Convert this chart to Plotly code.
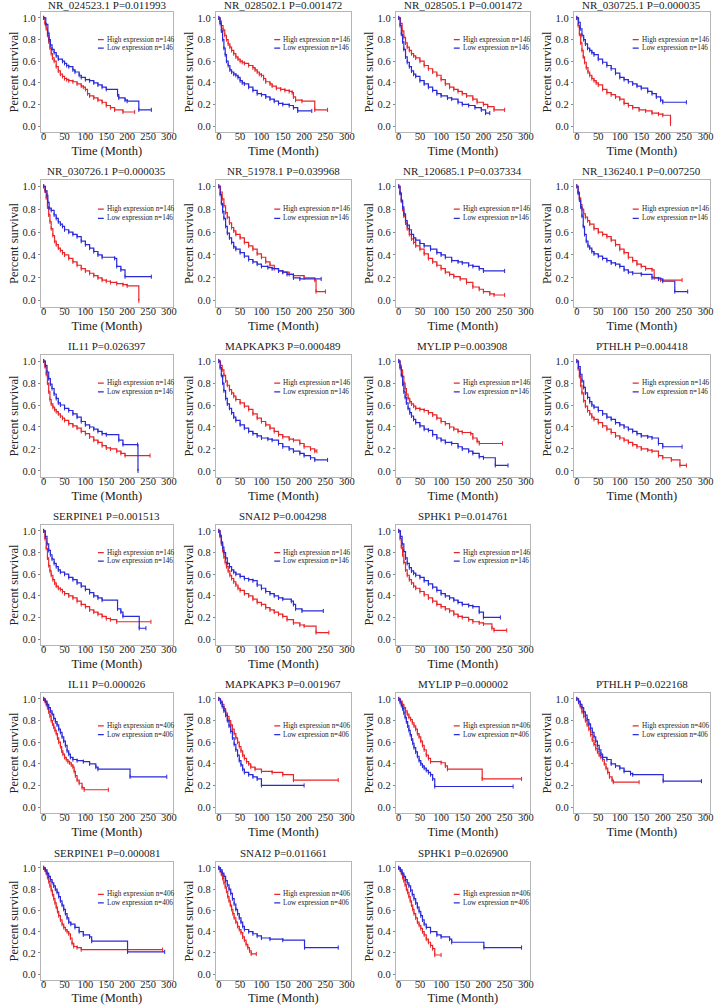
import plotly.graph_objects as go

# ---------------- data ----------------
titles = [
    "NR_024523.1 P=0.011993", "NR_028502.1 P=0.001472", "NR_028505.1 P=0.001472", "NR_030725.1 P=0.000035",
    "NR_030726.1 P=0.000035", "NR_51978.1 P=0.039968", "NR_120685.1 P=0.037334", "NR_136240.1 P=0.007250",
    "IL11 P=0.026397", "MAPKAPK3 P=0.000489", "MYLIP P=0.003908", "PTHLH P=0.004418",
    "SERPINE1 P=0.001513", "SNAI2 P=0.004298", "SPHK1 P=0.014761",
    "IL11 P=0.000026", "MAPKAPK3 P=0.001967", "MYLIP P=0.000002", "PTHLH P=0.022168",
    "SERPINE1 P=0.000081", "SNAI2 P=0.011661", "SPHK1 P=0.026900",
]
group_n = [146] * 15 + [406] * 7

x_ticks = [0, 50, 100, 150, 200, 250, 300]
y_ticks = [0.0, 0.2, 0.4, 0.6, 0.8, 1.0]

# (time, survival) step points: High expression / Low expression
p01_high = [(0,1),(3,0.95),(6,0.90),(9,0.84),(12,0.78),(15,0.72),(18,0.67),(21,0.63),(25,0.60),(30,0.55),(35,0.51),(40,0.48),(45,0.46),(50,0.44),(55,0.43),(60,0.42),(70,0.41),(80,0.39),(90,0.37),(95,0.36),(100,0.34),(105,0.30),(110,0.28),(120,0.26),(130,0.24),(140,0.22),(150,0.19),(160,0.17),(170,0.15),(190,0.13),(218,0.13)]
p01_low = [(0,1),(5,0.94),(10,0.86),(13,0.80),(16,0.75),(20,0.71),(25,0.68),(30,0.65),(35,0.62),(45,0.60),(50,0.58),(55,0.56),(60,0.55),(70,0.52),(75,0.50),(85,0.47),(90,0.45),(100,0.43),(110,0.42),(120,0.40),(130,0.38),(140,0.36),(150,0.34),(177,0.29),(180,0.26),(195,0.24),(200,0.23),(228,0.15),(258,0.15)]
p02_high = [(0,1),(3,0.97),(6,0.93),(10,0.89),(14,0.84),(18,0.80),(22,0.76),(26,0.73),(30,0.70),(35,0.67),(40,0.64),(45,0.62),(50,0.60),(55,0.59),(60,0.58),(70,0.56),(80,0.54),(85,0.52),(90,0.50),(95,0.48),(100,0.47),(105,0.44),(110,0.41),(120,0.39),(125,0.37),(135,0.35),(145,0.34),(155,0.33),(165,0.32),(172,0.31),(175,0.27),(180,0.24),(195,0.23),(225,0.15),(255,0.15)]
p02_low = [(0,1),(3,0.95),(6,0.88),(9,0.80),(12,0.72),(15,0.66),(18,0.60),(22,0.56),(26,0.52),(30,0.50),(35,0.48),(40,0.47),(45,0.45),(50,0.42),(55,0.40),(60,0.39),(70,0.36),(80,0.33),(90,0.30),(100,0.29),(110,0.27),(120,0.25),(130,0.23),(140,0.21),(150,0.20),(165,0.19),(175,0.17),(185,0.14),(218,0.14)]
p03_high = [(0,1),(4,0.95),(8,0.88),(12,0.82),(16,0.77),(20,0.73),(25,0.70),(30,0.67),(35,0.65),(40,0.63),(50,0.60),(60,0.56),(70,0.53),(80,0.50),(90,0.47),(100,0.43),(110,0.39),(120,0.36),(130,0.34),(140,0.32),(150,0.30),(160,0.28),(175,0.25),(185,0.22),(200,0.20),(210,0.18),(225,0.15),(250,0.15)]
p03_low = [(0,1),(3,0.93),(6,0.85),(9,0.78),(12,0.71),(16,0.64),(20,0.59),(25,0.55),(30,0.51),(35,0.48),(40,0.46),(50,0.42),(60,0.39),(70,0.36),(80,0.33),(90,0.30),(100,0.28),(115,0.26),(125,0.25),(140,0.22),(150,0.20),(165,0.19),(180,0.17),(195,0.15),(205,0.12),(215,0.12)]
p04_high = [(0,1),(3,0.93),(6,0.85),(9,0.77),(12,0.70),(15,0.64),(18,0.59),(22,0.54),(26,0.50),(30,0.47),(35,0.44),(40,0.42),(45,0.40),(50,0.38),(60,0.34),(70,0.31),(80,0.29),(90,0.27),(100,0.25),(110,0.21),(120,0.19),(130,0.17),(145,0.15),(160,0.14),(175,0.12),(190,0.11),(200,0.10),(218,0.02)]
p04_low = [(0,1),(4,0.96),(8,0.90),(12,0.84),(16,0.80),(20,0.76),(25,0.72),(30,0.70),(35,0.68),(40,0.66),(50,0.62),(60,0.59),(70,0.56),(80,0.53),(90,0.49),(100,0.45),(110,0.43),(120,0.41),(130,0.39),(140,0.37),(150,0.35),(165,0.32),(175,0.30),(185,0.27),(195,0.24),(200,0.22),(255,0.22)]
p05_high = [(0,1),(3,0.96),(6,0.90),(9,0.82),(12,0.75),(15,0.69),(18,0.63),(22,0.57),(26,0.52),(30,0.49),(35,0.46),(40,0.44),(45,0.42),(50,0.40),(60,0.37),(70,0.34),(80,0.31),(90,0.28),(100,0.26),(110,0.24),(120,0.22),(130,0.20),(140,0.18),(150,0.17),(160,0.16),(175,0.15),(190,0.14),(200,0.13),(228,0.0)]
p05_low = [(0,1),(4,0.96),(8,0.92),(10,0.86),(13,0.81),(18,0.79),(25,0.75),(30,0.72),(35,0.69),(40,0.67),(45,0.65),(50,0.62),(60,0.60),(70,0.58),(80,0.56),(90,0.52),(100,0.49),(110,0.46),(120,0.43),(130,0.40),(140,0.38),(170,0.37),(175,0.30),(185,0.27),(195,0.21),(258,0.21)]
p06_high = [(0,1),(4,0.95),(8,0.89),(12,0.83),(16,0.77),(20,0.73),(25,0.68),(30,0.64),(35,0.61),(40,0.58),(50,0.55),(60,0.51),(70,0.48),(80,0.45),(90,0.41),(100,0.38),(110,0.34),(120,0.31),(130,0.28),(140,0.26),(150,0.25),(165,0.23),(175,0.22),(200,0.20),(225,0.18),(228,0.08),(250,0.08)]
p06_low = [(0,1),(3,0.93),(6,0.85),(9,0.78),(12,0.72),(16,0.65),(20,0.59),(25,0.55),(30,0.51),(35,0.47),(40,0.45),(50,0.42),(60,0.39),(70,0.36),(80,0.34),(90,0.32),(100,0.30),(115,0.29),(125,0.28),(140,0.26),(150,0.25),(160,0.23),(175,0.20),(190,0.19),(240,0.19)]
p07_high = [(0,1),(3,0.94),(6,0.87),(9,0.80),(12,0.74),(16,0.68),(20,0.63),(25,0.58),(30,0.54),(35,0.51),(40,0.48),(50,0.45),(60,0.41),(70,0.37),(80,0.34),(90,0.31),(100,0.28),(110,0.25),(120,0.23),(130,0.21),(145,0.19),(160,0.16),(175,0.12),(190,0.10),(200,0.08),(215,0.06),(225,0.05),(250,0.05)]
p07_low = [(0,1),(3,0.94),(6,0.88),(9,0.82),(12,0.76),(16,0.70),(20,0.66),(25,0.62),(30,0.58),(35,0.55),(40,0.53),(50,0.50),(60,0.48),(75,0.45),(90,0.42),(100,0.40),(110,0.38),(125,0.35),(140,0.34),(150,0.33),(165,0.31),(175,0.30),(190,0.28),(200,0.26),(250,0.26)]
p08_high = [(0,1),(3,0.95),(6,0.90),(9,0.84),(12,0.80),(16,0.76),(20,0.73),(25,0.70),(30,0.67),(40,0.63),(50,0.60),(60,0.58),(70,0.56),(80,0.53),(90,0.49),(100,0.45),(110,0.42),(120,0.38),(130,0.35),(140,0.32),(150,0.30),(160,0.28),(175,0.27),(180,0.20),(195,0.18),(245,0.18)]
p08_low = [(0,1),(3,0.94),(6,0.88),(9,0.82),(12,0.74),(15,0.65),(18,0.58),(22,0.52),(26,0.48),(30,0.46),(35,0.43),(40,0.41),(50,0.39),(60,0.37),(70,0.35),(80,0.33),(90,0.32),(100,0.30),(110,0.27),(120,0.25),(130,0.24),(150,0.23),(175,0.20),(190,0.19),(200,0.17),(228,0.08),(258,0.08)]
p09_high = [(0,1),(3,0.95),(6,0.88),(9,0.80),(12,0.72),(15,0.65),(18,0.61),(22,0.58),(26,0.56),(30,0.54),(35,0.52),(40,0.50),(45,0.48),(50,0.46),(60,0.43),(70,0.41),(80,0.39),(90,0.36),(100,0.34),(110,0.31),(120,0.28),(130,0.26),(140,0.23),(150,0.21),(160,0.20),(175,0.18),(185,0.16),(195,0.14),(255,0.14)]
p09_low = [(0,1),(4,0.96),(8,0.90),(12,0.84),(16,0.79),(20,0.75),(25,0.70),(30,0.66),(35,0.62),(40,0.60),(50,0.57),(60,0.55),(70,0.52),(80,0.49),(90,0.45),(100,0.42),(110,0.40),(120,0.38),(130,0.36),(140,0.34),(150,0.33),(180,0.28),(190,0.24),(225,0.24),(226,0.0)]
p10_high = [(0,1),(4,0.96),(8,0.92),(12,0.87),(16,0.82),(20,0.78),(25,0.74),(30,0.71),(35,0.68),(40,0.65),(50,0.62),(60,0.59),(70,0.56),(80,0.52),(90,0.48),(100,0.45),(110,0.42),(120,0.39),(130,0.36),(140,0.33),(150,0.31),(165,0.29),(175,0.28),(190,0.25),(200,0.22),(215,0.20),(225,0.18),(230,0.18)]
p10_low = [(0,1),(3,0.94),(6,0.87),(9,0.80),(12,0.73),(16,0.66),(20,0.61),(25,0.57),(30,0.53),(35,0.49),(40,0.46),(50,0.42),(60,0.39),(70,0.36),(80,0.34),(90,0.32),(100,0.30),(115,0.29),(125,0.28),(140,0.25),(150,0.22),(165,0.20),(175,0.18),(190,0.16),(200,0.14),(215,0.12),(225,0.10),(255,0.10)]
p11_high = [(0,1),(3,0.96),(6,0.92),(9,0.86),(12,0.80),(15,0.75),(18,0.70),(22,0.66),(26,0.63),(30,0.61),(35,0.59),(40,0.57),(50,0.56),(60,0.55),(70,0.53),(80,0.51),(90,0.48),(100,0.45),(110,0.43),(120,0.40),(130,0.38),(140,0.36),(150,0.35),(170,0.34),(175,0.30),(185,0.27),(190,0.25),(245,0.25)]
p11_low = [(0,1),(3,0.94),(6,0.87),(9,0.79),(12,0.72),(15,0.67),(18,0.62),(22,0.57),(26,0.53),(30,0.50),(35,0.47),(40,0.44),(50,0.41),(60,0.38),(70,0.37),(80,0.33),(90,0.30),(100,0.28),(110,0.26),(125,0.25),(140,0.22),(150,0.20),(165,0.18),(175,0.16),(190,0.13),(200,0.12),(228,0.05),(258,0.05)]
p12_high = [(0,1),(3,0.93),(6,0.86),(9,0.78),(12,0.71),(16,0.64),(20,0.59),(25,0.55),(30,0.52),(35,0.49),(40,0.47),(50,0.44),(60,0.41),(70,0.38),(80,0.35),(90,0.32),(100,0.30),(110,0.28),(120,0.26),(130,0.24),(140,0.22),(150,0.20),(165,0.19),(175,0.18),(190,0.14),(200,0.12),(220,0.10),(240,0.05),(255,0.05)]
p12_low = [(0,1),(4,0.95),(8,0.88),(12,0.82),(16,0.76),(20,0.71),(25,0.67),(30,0.63),(35,0.60),(40,0.58),(50,0.55),(60,0.52),(70,0.49),(80,0.47),(90,0.44),(100,0.42),(110,0.40),(120,0.38),(130,0.36),(140,0.34),(150,0.32),(165,0.31),(175,0.30),(190,0.25),(200,0.22),(245,0.22)]
p13_high = [(0,1),(3,0.93),(6,0.84),(9,0.75),(12,0.68),(15,0.63),(18,0.59),(22,0.55),(26,0.52),(30,0.49),(35,0.47),(40,0.46),(45,0.44),(50,0.42),(60,0.40),(70,0.38),(80,0.35),(90,0.32),(100,0.30),(110,0.27),(120,0.25),(130,0.23),(140,0.21),(150,0.19),(160,0.18),(175,0.16),(257,0.16)]
p13_low = [(0,1),(4,0.95),(8,0.88),(12,0.82),(16,0.78),(20,0.74),(25,0.70),(30,0.67),(35,0.64),(40,0.62),(50,0.60),(60,0.57),(70,0.55),(80,0.52),(90,0.49),(100,0.46),(110,0.43),(120,0.40),(130,0.38),(140,0.36),(177,0.28),(185,0.25),(190,0.21),(229,0.10),(245,0.10)]
p14_high = [(0,1),(3,0.95),(6,0.88),(9,0.82),(12,0.76),(15,0.71),(18,0.67),(22,0.63),(26,0.59),(30,0.56),(35,0.53),(40,0.50),(45,0.47),(50,0.45),(60,0.42),(70,0.40),(80,0.37),(90,0.34),(100,0.32),(110,0.29),(120,0.27),(130,0.25),(140,0.23),(150,0.21),(160,0.18),(175,0.15),(190,0.13),(200,0.12),(228,0.06),(258,0.06)]
p14_low = [(0,1),(3,0.96),(6,0.90),(9,0.85),(12,0.80),(16,0.75),(20,0.70),(25,0.67),(30,0.64),(35,0.62),(40,0.60),(50,0.58),(60,0.56),(70,0.55),(80,0.54),(90,0.50),(100,0.47),(110,0.44),(120,0.42),(130,0.40),(140,0.38),(150,0.37),(170,0.35),(175,0.32),(180,0.28),(195,0.26),(245,0.26)]
p15_high = [(0,1),(3,0.93),(6,0.85),(9,0.78),(12,0.71),(16,0.64),(20,0.59),(25,0.55),(30,0.52),(35,0.49),(40,0.47),(50,0.44),(60,0.41),(70,0.38),(80,0.35),(90,0.32),(100,0.30),(110,0.28),(120,0.26),(130,0.23),(140,0.21),(150,0.20),(165,0.18),(175,0.16),(190,0.15),(200,0.14),(220,0.10),(225,0.08),(255,0.08)]
p15_low = [(0,1),(4,0.95),(8,0.88),(12,0.81),(16,0.75),(20,0.70),(25,0.66),(30,0.63),(35,0.61),(40,0.59),(50,0.57),(60,0.54),(70,0.51),(80,0.48),(90,0.45),(100,0.42),(110,0.40),(120,0.38),(130,0.36),(140,0.34),(150,0.32),(165,0.31),(175,0.30),(190,0.25),(200,0.20),(240,0.20)]
p16_high = [(0,1),(3,0.98),(6,0.95),(9,0.92),(12,0.88),(15,0.84),(18,0.80),(21,0.77),(24,0.74),(27,0.71),(30,0.68),(33,0.64),(36,0.60),(40,0.56),(43,0.52),(46,0.49),(50,0.46),(54,0.44),(58,0.42),(62,0.41),(66,0.39),(70,0.37),(73,0.33),(76,0.29),(80,0.25),(85,0.22),(92,0.18),(97,0.16),(155,0.16)]
p16_low = [(0,1),(4,0.98),(8,0.95),(12,0.92),(16,0.89),(20,0.86),(24,0.82),(28,0.79),(32,0.76),(36,0.72),(40,0.69),(44,0.65),(48,0.61),(52,0.57),(56,0.52),(60,0.49),(64,0.46),(70,0.44),(80,0.43),(95,0.42),(110,0.40),(125,0.37),(130,0.35),(207,0.28),(295,0.28)]
p17_high = [(0,1),(4,0.98),(8,0.95),(12,0.91),(16,0.87),(20,0.84),(24,0.80),(28,0.76),(32,0.72),(36,0.68),(40,0.64),(44,0.60),(48,0.56),(52,0.52),(56,0.48),(60,0.45),(65,0.42),(70,0.40),(75,0.37),(85,0.35),(100,0.33),(125,0.32),(150,0.30),(175,0.25),(280,0.25)]
p17_low = [(0,1),(4,0.97),(8,0.93),(12,0.89),(16,0.85),(20,0.80),(24,0.75),(28,0.70),(32,0.64),(36,0.58),(40,0.53),(44,0.48),(48,0.43),(52,0.39),(56,0.35),(60,0.32),(70,0.30),(80,0.28),(90,0.26),(100,0.20),(200,0.20)]
p18_high = [(0,1),(4,0.98),(8,0.95),(12,0.92),(16,0.89),(20,0.86),(24,0.83),(28,0.81),(32,0.78),(36,0.75),(40,0.72),(44,0.68),(48,0.65),(52,0.61),(56,0.57),(60,0.53),(65,0.48),(70,0.45),(75,0.42),(100,0.41),(110,0.38),(115,0.35),(197,0.26),(290,0.26)]
p18_low = [(0,1),(3,0.97),(6,0.94),(9,0.91),(12,0.87),(15,0.83),(18,0.79),(21,0.75),(24,0.71),(27,0.67),(30,0.63),(33,0.59),(36,0.55),(40,0.51),(44,0.47),(48,0.43),(52,0.40),(56,0.38),(60,0.36),(65,0.34),(70,0.32),(75,0.30),(80,0.26),(85,0.19),(270,0.19)]
p19_high = [(0,1),(4,0.97),(8,0.93),(12,0.88),(16,0.84),(20,0.80),(24,0.76),(28,0.72),(32,0.67),(36,0.62),(40,0.58),(44,0.54),(48,0.51),(52,0.48),(56,0.46),(60,0.44),(64,0.40),(68,0.36),(72,0.32),(76,0.28),(82,0.25),(85,0.23),(145,0.23)]
p19_low = [(0,1),(4,0.98),(8,0.95),(12,0.92),(16,0.88),(20,0.85),(24,0.81),(28,0.77),(32,0.73),(36,0.69),(40,0.65),(44,0.61),(48,0.57),(52,0.53),(56,0.49),(60,0.46),(70,0.44),(80,0.40),(90,0.38),(100,0.36),(110,0.33),(125,0.31),(130,0.30),(201,0.24),(290,0.24)]
p20_high = [(0,1),(3,0.98),(6,0.95),(9,0.91),(12,0.87),(15,0.83),(18,0.79),(21,0.75),(24,0.71),(27,0.67),(30,0.63),(33,0.59),(36,0.55),(40,0.51),(44,0.47),(48,0.44),(52,0.42),(56,0.40),(60,0.38),(64,0.34),(68,0.29),(72,0.26),(80,0.25),(90,0.23),(285,0.23)]
p20_low = [(0,1),(4,0.98),(8,0.95),(12,0.92),(16,0.89),(20,0.86),(24,0.83),(28,0.80),(32,0.77),(36,0.73),(40,0.69),(44,0.65),(48,0.61),(52,0.57),(56,0.53),(60,0.49),(65,0.47),(75,0.44),(85,0.40),(95,0.37),(110,0.35),(115,0.31),(201,0.21),(290,0.21)]
p21_high = [(0,1),(3,0.97),(6,0.94),(9,0.90),(12,0.86),(15,0.82),(18,0.78),(21,0.73),(24,0.69),(27,0.65),(30,0.61),(33,0.57),(36,0.53),(40,0.49),(44,0.45),(48,0.42),(52,0.39),(56,0.35),(60,0.32),(64,0.28),(68,0.25),(72,0.22),(76,0.19),(88,0.19)]
p21_low = [(0,1),(4,0.98),(8,0.95),(12,0.92),(16,0.88),(20,0.84),(24,0.80),(28,0.76),(32,0.71),(36,0.66),(40,0.61),(44,0.57),(48,0.53),(52,0.49),(56,0.45),(60,0.42),(70,0.40),(80,0.38),(90,0.36),(100,0.34),(120,0.33),(150,0.32),(201,0.25),(280,0.25)]
p22_high = [(0,1),(3,0.98),(6,0.95),(9,0.91),(12,0.88),(15,0.84),(18,0.80),(21,0.77),(24,0.73),(27,0.69),(30,0.65),(33,0.61),(36,0.57),(40,0.53),(44,0.49),(48,0.46),(52,0.43),(56,0.40),(60,0.37),(65,0.33),(70,0.30),(75,0.27),(80,0.24),(85,0.18),(100,0.18)]
p22_low = [(0,1),(4,0.98),(8,0.95),(12,0.92),(16,0.89),(20,0.86),(24,0.83),(28,0.79),(32,0.75),(36,0.71),(40,0.67),(44,0.63),(48,0.59),(52,0.55),(56,0.51),(60,0.47),(65,0.44),(75,0.40),(90,0.37),(100,0.35),(120,0.33),(125,0.30),(201,0.25),(290,0.25)]

curves = [
    (p01_high, p01_low), (p02_high, p02_low), (p03_high, p03_low), (p04_high, p04_low),
    (p05_high, p05_low), (p06_high, p06_low), (p07_high, p07_low), (p08_high, p08_low),
    (p09_high, p09_low), (p10_high, p10_low), (p11_high, p11_low), (p12_high, p12_low),
    (p13_high, p13_low), (p14_high, p14_low), (p15_high, p15_low),
    (p16_high, p16_low), (p17_high, p17_low), (p18_high, p18_low), (p19_high, p19_low),
    (p20_high, p20_low), (p21_high, p21_low), (p22_high, p22_low),
]

# ---------------- layout ----------------
W, H = 720, 1005
col_px = [(41, 174), (217, 353), (398, 533), (577, 714)]
row_px = [(12, 132), (180, 307), (355, 477), (525, 645), (693, 813), (862, 980)]
cells = [(0, 0), (0, 1), (0, 2), (0, 3),
         (1, 0), (1, 1), (1, 2), (1, 3),
         (2, 0), (2, 1), (2, 2), (2, 3),
         (3, 0), (3, 1), (3, 2),
         (4, 0), (4, 1), (4, 2), (4, 3),
         (5, 0), (5, 1), (5, 2)]

RED = "#e8262a"
BLUE = "#2a2ad8"
FONT = "Liberation Serif"

fig = go.Figure()
layout = dict(
    width=W, height=H, margin=dict(l=0, r=0, t=0, b=0),
    paper_bgcolor="white", plot_bgcolor="white", showlegend=False,
    font=dict(family=FONT, color="#222"),
)
annotations = []
shapes = []

for i, ((r, c), title, n, (hi, lo)) in enumerate(zip(cells, titles, group_n, curves)):
    k = i + 1
    xs = "x" if k == 1 else f"x{k}"
    ys = "y" if k == 1 else f"y{k}"
    xa = "xaxis" if k == 1 else f"xaxis{k}"
    ya = "yaxis" if k == 1 else f"yaxis{k}"
    x0, x1 = col_px[c]
    y0, y1 = row_px[r]
    xd = [x0 / W, x1 / W]
    yd = [1 - y1 / H, 1 - y0 / H]

    for data, color in ((hi, RED), (lo, BLUE)):
        fig.add_trace(go.Scatter(
            x=[p[0] for p in data], y=[p[1] for p in data],
            mode="lines+markers", line=dict(color=color, width=1.2, shape="hv"),
            marker=dict(symbol="line-ns", size=3, line=dict(color=color, width=1)),
            xaxis=xs, yaxis=ys, hoverinfo="skip",
        ))

    axis_common = dict(
        showline=True, mirror=True, linecolor="#b5b5b5", linewidth=1,
        showgrid=False, zeroline=False, ticks="outside", ticklen=2,
        tickcolor="#888", tickfont=dict(family=FONT, size=10.5, color="#222"),
    )
    layout[xa] = dict(axis_common, domain=xd, anchor=ys, range=[-7, 310],
                      tickvals=x_ticks, ticklabelstandoff=-8,
                      title=dict(text="Time (Month)", font=dict(family=FONT, size=12.5, color="#222"), standoff=5))
    layout[ya] = dict(axis_common, domain=yd, anchor=xs, range=[-0.055, 1.055],
                      tickvals=y_ticks, tickformat=".1f",
                      title=dict(text="Percent survival", font=dict(family=FONT, size=12.5, color="#222"), standoff=1))

    annotations.append(dict(
        text=title, xref="paper", yref="paper", x=(xd[0] + xd[1]) / 2, y=yd[1],
        xanchor="center", yanchor="bottom", yshift=-1 if r == 0 else 1, showarrow=False,
        font=dict(family=FONT, size=11, color="#222"),
    ))

    ly = (0.80, 0.72) if n == 146 else (0.75, 0.67)
    for label, color, yy in (("High expression n=%d" % n, RED, ly[0]), ("Low expression n=%d" % n, BLUE, ly[1])):
        shapes.append(dict(type="line", xref=xs, yref=ys, x0=130, x1=144, y0=yy, y1=yy,
                           line=dict(color=color, width=1.2)))
        annotations.append(dict(
            text=label, xref=xs, yref=ys, x=147, y=yy, xanchor="left", yanchor="middle",
            showarrow=False, font=dict(family=FONT, size=7.2, color="#222"),
        ))

layout["annotations"] = annotations
layout["shapes"] = shapes
fig.update_layout(**layout)
fig.write_html("out.html", config={"displayModeBar": False},
               post_script="document.body.style.margin='0';")
